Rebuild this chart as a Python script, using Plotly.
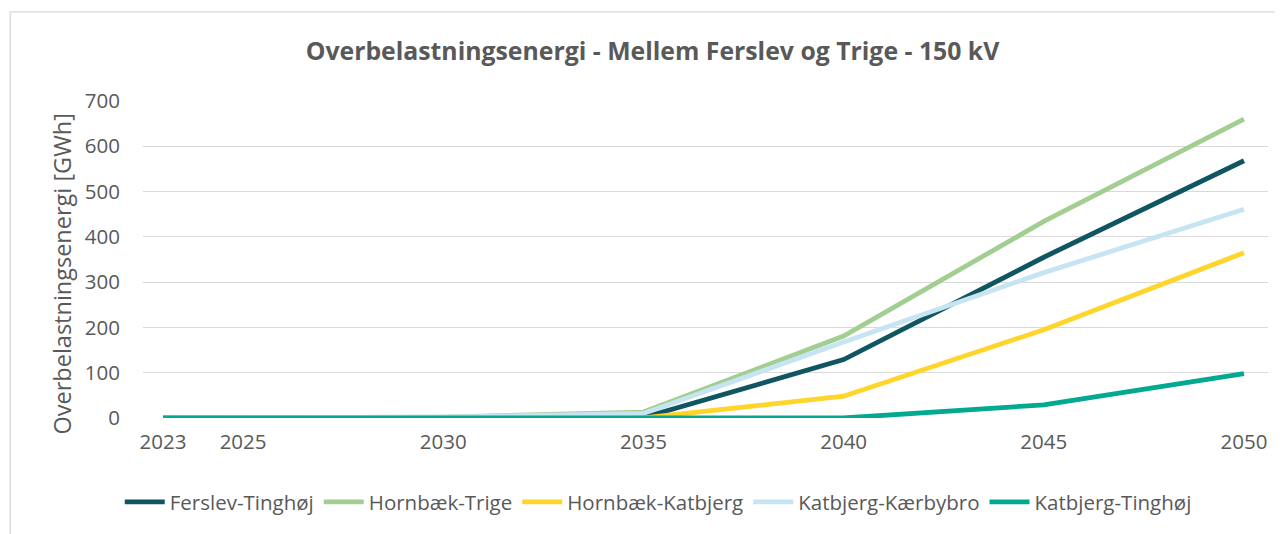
import plotly.graph_objects as go

years = [2023, 2025, 2030, 2035, 2040, 2045, 2050]
tick_years = [2023, 2025, 2030, 2035, 2040, 2045, 2050]

ferslev_tinghoj = [0, 0, 0, 1, 129, 355, 568]
hornbaek_trige = [0, 0, 2, 13, 181, 434, 660]
hornbaek_katbjerg = [0, 0, 0, 0, 48, 195, 365]
katbjerg_kaerbybro = [0, 0, 2, 10, 168, 321, 461]
katbjerg_tinghoj = [0, 0, 0, 0, 0, 29, 98]

series = [
    ("Ferslev-Tinghøj", ferslev_tinghoj, "#0F5661"),
    ("Hornbæk-Trige", hornbaek_trige, "#A2CE91"),
    ("Hornbæk-Katbjerg", hornbaek_katbjerg, "#FFD42B"),
    ("Katbjerg-Kærbybro", katbjerg_kaerbybro, "#C6E4F1"),
    ("Katbjerg-Tinghøj", katbjerg_tinghoj, "#00A98F"),
]

fig = go.Figure()
for name, vals, color in series:
    fig.add_trace(go.Scatter(
        x=years, y=vals, name=name, mode="lines",
        line=dict(color=color, width=4.8),
    ))

font_family = "Open Sans, Liberation Sans, sans-serif"
gray = "#595959"

fig.update_layout(
    width=1275, height=526,
    margin=dict(l=135, r=15, t=93, b=116),
    paper_bgcolor="white", plot_bgcolor="white",
    title=dict(
        text="<b>Overbelastningsenergi - Mellem Ferslev og Trige - 150 kV</b>",
        x=0.5055, xanchor="center", y=0.917, yanchor="middle",
        font=dict(family=font_family, size=24.8, color=gray),
    ),
    font=dict(family=font_family, color=gray),
    xaxis=dict(
        range=[2022.5, 2050.6], tickmode="array", tickvals=tick_years,
        ticktext=[str(t) for t in tick_years],
        showgrid=False, zeroline=False, showline=False,
        tickfont=dict(size=20.5, color=gray), ticklabelstandoff=9,
    ),
    yaxis=dict(
        range=[0, 700], dtick=100, showgrid=True, gridcolor="#D9D9D9", gridwidth=1.3,
        zeroline=False, showline=False,
        tickfont=dict(size=20.5, color=gray), ticklabelstandoff=22,
    ),
    legend=dict(
        orientation="h", x=0.458, xanchor="center", y=-0.265, yanchor="middle",
        font=dict(size=20.5, color=gray), itemwidth=40, traceorder="normal",
    ),
    showlegend=True,
)

fig.add_annotation(
    text="Overbelastningsenergi [GWh]", textangle=-90, showarrow=False,
    xref="paper", yref="paper", x=-0.072, y=0.4527, xanchor="center", yanchor="middle",
    font=dict(family=font_family, size=23.5, color=gray),
)

fig.add_shape(
    type="rect", xref="paper", yref="paper",
    x0=-0.118, y0=-0.6, x1=1.2, y1=1.281,
    line=dict(color="#D9D9D9", width=1.3), fillcolor="rgba(0,0,0,0)", layer="below",
)

fig.write_html("out.html")
